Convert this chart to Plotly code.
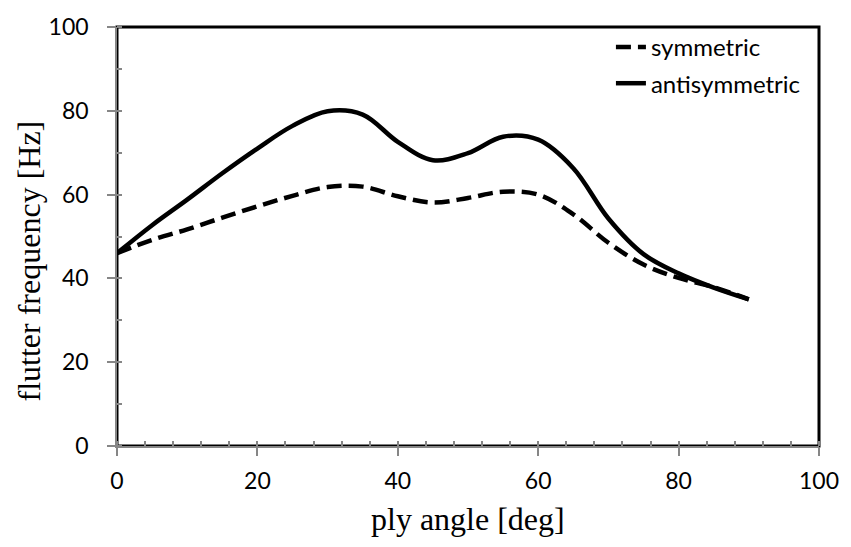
import plotly.graph_objects as go

# Data
ply_angle = [0, 5, 10, 15, 20, 25, 30, 35, 40, 45, 50, 55, 60, 65, 70, 75, 80, 85, 90]
symmetric = [46, 49.2, 51.7, 54.5, 57.2, 59.7, 61.8, 61.9, 59.6, 58.1, 59.2, 60.7,
             60.0, 55.3, 48.5, 43.3, 40.1, 37.9, 35]
antisymmetric = [46, 52.7, 58.8, 65.1, 71.0, 76.4, 79.9, 79.1, 72.6, 68.2, 69.9, 73.8,
                 73.1, 66.3, 54.3, 45.8, 41.2, 37.8, 35]

x_ticks = [0, 20, 40, 60, 80, 100]
y_ticks = [0, 20, 40, 60, 80, 100]

GRAY = "#868686"
TICKFONT = dict(family="Lato", size=23, color="black")
SERIF = "Liberation Serif"

fig = go.Figure()
fig.add_trace(go.Scatter(
    x=ply_angle, y=symmetric, name="symmetric", mode="lines", legendgroup="a",
    line=dict(color="black", width=4.5, dash="15px,7px", shape="spline", smoothing=1),
))
fig.add_trace(go.Scatter(
    x=ply_angle, y=antisymmetric, name="antisymmetric", mode="lines", legendgroup="b",
    line=dict(color="black", width=4.5, shape="spline", smoothing=1),
))

axis_common = dict(showgrid=False, zeroline=False, showline=True, linecolor=GRAY,
                   linewidth=1.5, tickcolor=GRAY, tickwidth=1.5)

fig.update_layout(
    width=851, height=547,
    margin=dict(l=117, r=22, t=22, b=101),
    paper_bgcolor="white", plot_bgcolor="white",
    showlegend=True,
    legend=dict(x=0.7036, y=1.005, xanchor="left", yanchor="top",
                font=dict(family="Lato", size=24, color="black"),
                bgcolor="rgba(0,0,0,0)", tracegroupgap=2),
    xaxis=dict(range=[0, 100], tickvals=x_ticks, ticktext=[str(v) for v in x_ticks],
               ticks="outside", ticklen=8, tickfont=TICKFONT, ticklabelstandoff=6,
               minor=dict(ticks="inside", ticklen=5, dtick=4, tickcolor=GRAY, tickwidth=1.5),
               **axis_common),
    yaxis=dict(range=[0, 100], tickvals=y_ticks, ticktext=[str(v) for v in y_ticks],
               ticks="outside", ticklen=8, tickfont=TICKFONT, ticklabelstandoff=14,
               minor=dict(ticks="inside", ticklen=5, dtick=10, tickcolor=GRAY, tickwidth=1.5),
               **axis_common),
    xaxis2=dict(overlaying="x", matches="x", anchor="y2", side="bottom", range=[0, 100],
                tickvals=x_ticks, showticklabels=False, ticks="inside", ticklen=8,
                showgrid=False, zeroline=False, showline=False, tickcolor=GRAY, tickwidth=1.5),
    yaxis2=dict(overlaying="y", matches="y", anchor="x2", side="left", range=[0, 100],
                tickvals=y_ticks, showticklabels=False, ticks="inside", ticklen=8,
                showgrid=False, zeroline=False, showline=False, tickcolor=GRAY, tickwidth=1.5),
    shapes=[dict(type="rect", xref="x domain", yref="y domain", x0=0, x1=1, y0=0, y1=1,
                 line=dict(color="black", width=3), layer="below")],
    annotations=[
        dict(text="ply angle [deg]", xref="paper", yref="paper", x=0.5, y=-0.175,
             xanchor="center", yanchor="middle", showarrow=False,
             font=dict(family=SERIF, size=32, color="black")),
        dict(text="flutter frequency [Hz]", xref="paper", yref="paper", x=-0.125, y=0.441,
             xanchor="center", yanchor="middle", showarrow=False, textangle=-90,
             font=dict(family=SERIF, size=32, color="black")),
    ],
)

fig.write_html("out.html")
